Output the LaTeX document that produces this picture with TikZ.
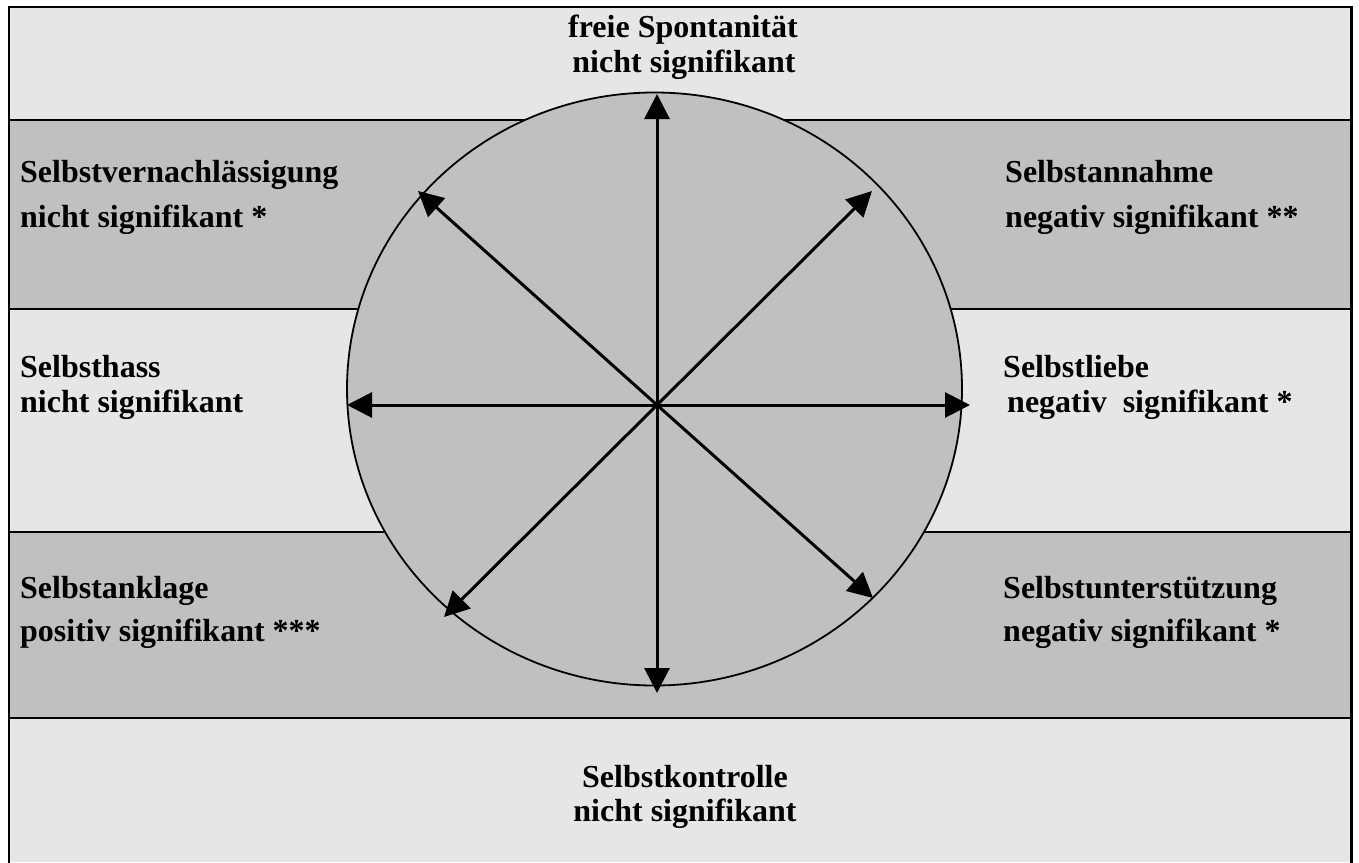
\documentclass[tikz,border=0pt]{standalone}
\usepackage{fontspec}
\setmainfont{Liberation Serif}
\usetikzlibrary{arrows.meta,shapes.geometric}
\definecolor{lightband}{RGB}{230,230,230}
\definecolor{darkband}{RGB}{192,192,192}
\tikzset{
  lbl/.style={inner sep=0pt, font=\fontsize{32}{36}\selectfont\bfseries},
  lblw/.style={lbl, anchor=base west},
  lblc/.style={lbl, anchor=base},
  bandline/.style={line width=2pt},
  arr/.style={line width=3pt, -{Triangle[length=25pt,width=25pt]}, shorten >=0pt}
}
\begin{document}
\begin{tikzpicture}[x=1pt,y=-1pt]
\useasboundingbox (0,0) rectangle (1359,862);
% bands
\fill[lightband] (9,7) rectangle (1351,120);
\fill[darkband] (9,120) rectangle (1351,309);
\fill[lightband] (9,309) rectangle (1351,532);
\fill[darkband] (9,532) rectangle (1351,718);
\fill[lightband] (9,718) rectangle (1351,862);
\draw[bandline] (9,120) -- (1351,120);
\draw[bandline] (9,309) -- (1351,309);
\draw[bandline] (9,532) -- (1351,532);
\draw[bandline] (9,718) -- (1351,718);
% frame
\draw[line width=2pt] (9,863) -- (9,7) -- (1351,7);
\draw[line width=3pt] (1351,6) -- (1351,863);
% circle
\node[draw, line width=1.8pt, fill=darkband, ellipse, minimum width=615pt, minimum height=593pt, inner sep=0pt] (circ) at (654.5,389) {};
% arrows
\coordinate (c) at (657,405);
\coordinate (tU) at (657,94);
\coordinate (tD) at (657,693);
\coordinate (tR) at (970,405);
\coordinate (tL) at (347,405);
\coordinate (tUL) at (418,191);
\coordinate (tUR) at (872,191);
\coordinate (tDL) at (444,617);
\coordinate (tDR) at (873,598);
\foreach \t in {tU,tD,tR,tL,tUL,tUR,tDL,tDR} \draw[arr] (c) -- (\t);
% labels
\node[lblc] (top1) at (683,37) {freie Spontanität};
\node[lblc] (top2) at (684,72) {nicht signifikant};
\node[lblw] (ul1) at (20,182) {Selbstvernachlässigung};
\node[lblw] (ul2) at (20,227) {nicht signifikant *};
\node[lblw] (ur1) at (1005,182) {Selbstannahme};
\node[lblw] (ur2) at (1005,227) {negativ signifikant **};
\node[lblw] (l1) at (20,377) {Selbsthass};
\node[lblw] (l2) at (20,412) {nicht signifikant};
\node[lblw] (r1) at (1003,377) {Selbstliebe};
\node[lblw] (r2) at (1007,412) {negativ\ \ signifikant *};
\node[lblw] (dl1) at (20,598) {Selbstanklage};
\node[lblw] (dl2) at (20,641) {positiv signifikant ***};
\node[lblw] (dr1) at (1003,598) {Selbstunterstützung};
\node[lblw] (dr2) at (1003,641) {negativ signifikant *};
\node[lblc] (bot1) at (685,787) {Selbstkontrolle};
\node[lblc] (bot2) at (685,821) {nicht signifikant};
\end{tikzpicture}
\end{document}
